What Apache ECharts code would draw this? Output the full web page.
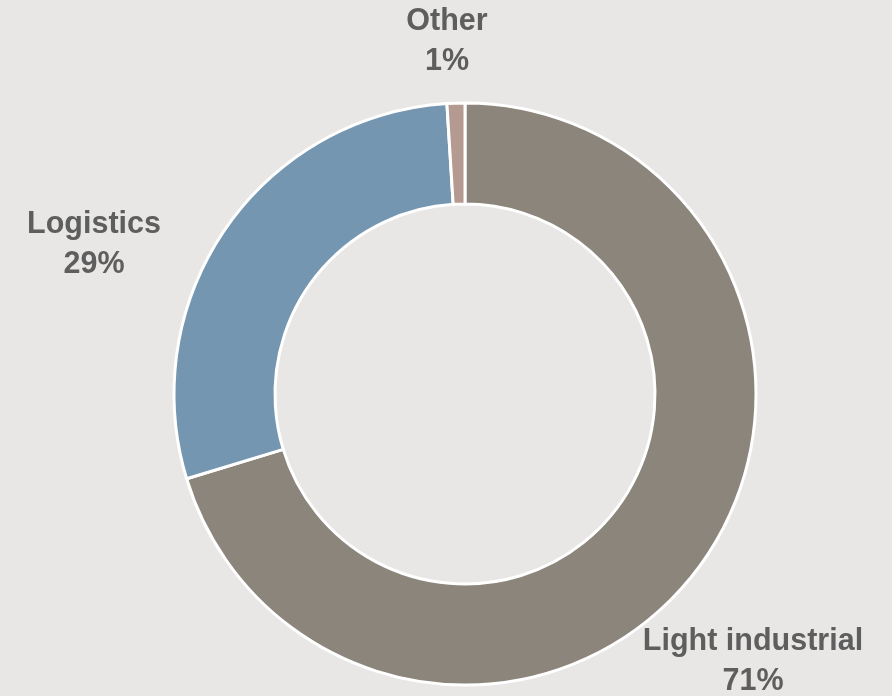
<!DOCTYPE html>
<html>
<head>
<meta charset="utf-8">
<style>
  html, body { margin: 0; padding: 0; background: #e8e7e5; }
  #chart { width: 892px; height: 696px; }
</style>
<script src="https://cdn.jsdelivr.net/npm/echarts@6/dist/echarts.min.js"></script>
</head>
<body>
<div id="chart"></div>
<script>
// Share of portfolio by property type (percent)
const categories = ['Light industrial', 'Logistics', 'Other'];
const shares = [71, 29, 1];
const sliceColors = ['#8b857b', '#7596b0', '#b49a90'];

// Where each label's text block is centred
const labelSpots = {
  'Light industrial': [753, 662],
  'Logistics': [94, 245],
  'Other': [447, 42]
};

const chart = echarts.init(document.getElementById('chart'), null, { renderer: 'canvas' });

chart.setOption({
  backgroundColor: '#e8e7e5',
  animation: false,
  series: [{
    type: 'pie',
    center: [465, 394],
    radius: [190, 291],
    startAngle: 90,
    clockwise: true,
    data: categories.map((name, i) => ({
      name: name,
      value: shares[i],
      itemStyle: { color: sliceColors[i] }
    })),
    itemStyle: { borderColor: '#ffffff', borderWidth: 3 },
    label: {
      show: true,
      position: 'outside',
      formatter: p => p.name + '\n' + p.value + '%',
      color: '#5e5e5e',
      fontFamily: '"Liberation Sans", Arial, sans-serif',
      fontWeight: 'bold',
      fontSize: 30.5,
      lineHeight: 40,
      align: 'center',
      verticalAlign: 'middle',
      overflow: 'none'
    },
    labelLine: { show: false },
    labelLayout: params => {
      const name = categories[params.dataIndex];
      const spot = labelSpots[name];
      return { x: spot[0], y: spot[1], align: 'center', verticalAlign: 'middle' };
    },
    emphasis: { disabled: true }
  }]
});
</script>
</body>
</html>
